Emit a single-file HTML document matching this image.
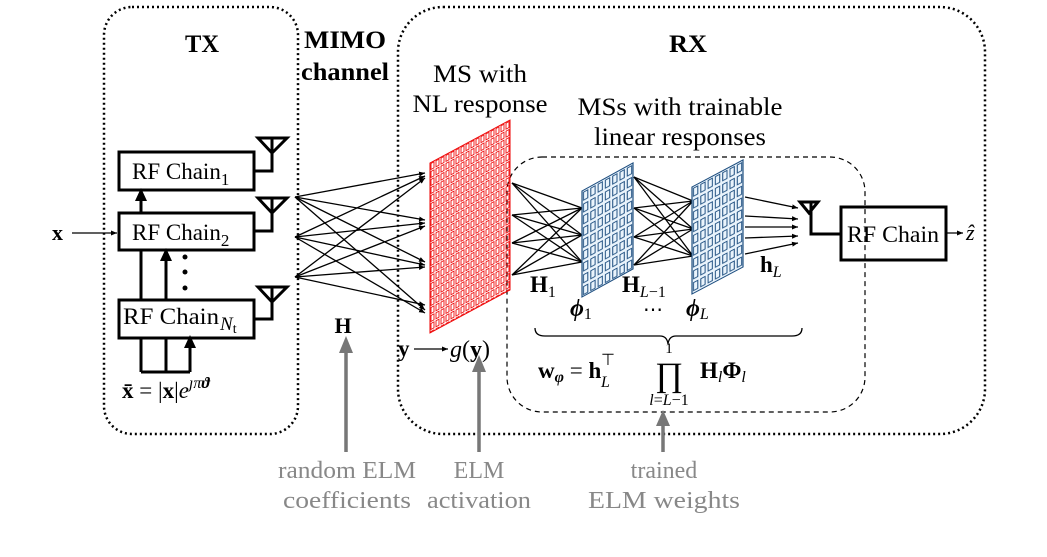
<!DOCTYPE html>
<html><head><meta charset="utf-8"><style>
html,body{margin:0;padding:0;background:#fff;}
svg{display:block;}
text{font-family:"Liberation Serif",serif;}
</style></head><body>
<svg width="1047" height="557" viewBox="0 0 1047 557" xmlns="http://www.w3.org/2000/svg">
<defs>
<marker id="ahs" markerWidth="6" markerHeight="6" refX="6" refY="3" orient="auto" markerUnits="userSpaceOnUse"><path d="M0,0.5 L6,3 L0,5.5 z" fill="#000"/></marker>
<pattern id="pr" width="5" height="8" patternUnits="userSpaceOnUse"><rect x="1" y="1" width="3" height="6" fill="none" stroke="#e00" stroke-width="0.9"/></pattern>
<pattern id="pb" width="7.3" height="11.8" patternUnits="userSpaceOnUse"><rect x="1.5" y="2" width="4.3" height="8" fill="none" stroke="#1f4f80" stroke-width="1"/></pattern>
</defs>

<rect x="104" y="7" width="194" height="427" rx="28" fill="none" stroke="#000" stroke-width="2.5" stroke-dasharray="2,3"/>
<rect x="398" y="7" width="587" height="427" rx="45" fill="none" stroke="#000" stroke-width="2.5" stroke-dasharray="2,3"/>
<rect x="507" y="157" width="358" height="255" rx="35" fill="none" stroke="#000" stroke-width="1.2" stroke-dasharray="5,4"/>

<text x="202" y="52" font-size="25" font-weight="bold" text-anchor="middle" textLength="34" lengthAdjust="spacingAndGlyphs">TX</text>
<text x="688" y="52" font-size="25" font-weight="bold" text-anchor="middle" textLength="38" lengthAdjust="spacingAndGlyphs">RX</text>
<text x="345" y="48" font-size="25" font-weight="bold" text-anchor="middle" textLength="82" lengthAdjust="spacingAndGlyphs">MIMO</text>
<text x="345" y="80" font-size="25" font-weight="bold" text-anchor="middle" textLength="88" lengthAdjust="spacingAndGlyphs">channel</text>
<text x="480" y="82" font-size="25" text-anchor="middle" textLength="94" lengthAdjust="spacingAndGlyphs">MS with</text>
<text x="480" y="112" font-size="25" text-anchor="middle" textLength="135" lengthAdjust="spacingAndGlyphs">NL response</text>
<text x="680" y="115" font-size="25" text-anchor="middle" textLength="205" lengthAdjust="spacingAndGlyphs">MSs with trainable</text>
<text x="680" y="145" font-size="25" text-anchor="middle" textLength="172" lengthAdjust="spacingAndGlyphs">linear responses</text>

<text x="52" y="240" font-size="22" font-weight="bold">x</text>
<line x1="72" y1="233" x2="117" y2="233" stroke="#000" stroke-width="1.3" marker-end="url(#ahs)"/>

<g fill="none" stroke="#000" stroke-width="3">
<rect x="119" y="152" width="135" height="38"/>
<rect x="119" y="213" width="135" height="37"/>
<rect x="119" y="300" width="135" height="38"/>
</g>
<text x="132" y="179" font-size="23">RF Chain<tspan font-size="17" dy="6">1</tspan></text>
<text x="132" y="240" font-size="23">RF Chain<tspan font-size="17" dy="6">2</tspan></text>
<text x="123" y="324" font-size="23" textLength="96" lengthAdjust="spacingAndGlyphs">RF Chain</text>
<text x="220" y="330" font-size="19" font-style="italic">N<tspan font-size="14" font-style="normal" dy="3">t</tspan></text>

<g fill="none" stroke="#000" stroke-width="3">
<path d="M258,138 L287,138 L272,153 Z M272,138 L272,171 L254,171"/>
<path d="M258,198 L287,198 L272,213 Z M272,198 L272,231 L254,231"/>
<path d="M258,287 L287,287 L272,302 Z M272,287 L272,319 L254,319"/>
</g>

<g stroke="#000" stroke-width="3" fill="none">
<path d="M141,372 L141,338 M166,372 L166,338 M190,372 L190,345 M141,372 L190,372"/>
<path d="M141,300 L141,250 M166,300 L166,258"/>
<path d="M141,213 L141,198"/>
</g>
<g fill="#000">
<path d="M184,348 L190,335 L196,348 Z"/>
<path d="M160,261 L166,248 L172,261 Z"/>
<path d="M135,201 L141,188 L147,201 Z"/>
<circle cx="185" cy="257" r="2.5"/><circle cx="185" cy="272" r="2.5"/><circle cx="185" cy="288" r="2.5"/>
</g>
<text x="122" y="398" font-size="23"><tspan font-weight="bold">x̄</tspan> = |<tspan font-weight="bold">x</tspan>|<tspan font-style="italic">e</tspan><tspan font-size="16" dy="-10" font-style="italic">ȷπ</tspan><tspan font-size="16" font-weight="bold" font-style="italic">ϑ</tspan></text>

<g stroke="#000" stroke-width="1.3" marker-end="url(#ahs)">
<line x1="295" y1="197" x2="425" y2="173"/><line x1="295" y1="197" x2="425" y2="220"/><line x1="295" y1="197" x2="425" y2="262"/><line x1="295" y1="197" x2="425" y2="310"/>
<line x1="295" y1="237" x2="425" y2="176"/><line x1="295" y1="237" x2="425" y2="223"/><line x1="295" y1="237" x2="425" y2="265"/><line x1="295" y1="237" x2="425" y2="313"/>
<line x1="295" y1="277" x2="425" y2="178"/><line x1="295" y1="277" x2="425" y2="226"/><line x1="295" y1="277" x2="425" y2="267"/><line x1="295" y1="277" x2="425" y2="305"/>
</g>
<text x="343" y="333" font-size="22" font-weight="bold" text-anchor="middle">H</text>

<g transform="matrix(1,-0.5375,0,1,430,163)">
<rect x="0" y="0" width="80" height="170" fill="url(#pr)" stroke="#e00" stroke-width="1"/>
</g>
<text x="398" y="356" font-size="23"><tspan font-weight="bold">y</tspan></text>
<line x1="414" y1="349" x2="448" y2="349" stroke="#000" stroke-width="1.3" marker-end="url(#ahs)"/>
<text x="450" y="357" font-size="24"><tspan font-style="italic">g</tspan>(<tspan font-weight="bold">y</tspan>)</text>

<g stroke="#000" stroke-width="1.3">
<line x1="512" y1="183" x2="582" y2="208"/><line x1="512" y1="183" x2="582" y2="235"/><line x1="512" y1="183" x2="582" y2="262"/>
<line x1="512" y1="215" x2="582" y2="208"/><line x1="512" y1="215" x2="582" y2="235"/><line x1="512" y1="215" x2="582" y2="262"/>
<line x1="512" y1="243" x2="582" y2="208"/><line x1="512" y1="243" x2="582" y2="235"/><line x1="512" y1="243" x2="582" y2="262"/>
<line x1="512" y1="275" x2="582" y2="208"/><line x1="512" y1="275" x2="582" y2="235"/><line x1="512" y1="275" x2="582" y2="262"/>
</g>
<g transform="matrix(1,-0.55,0,1,582,191)">
<rect x="0" y="0" width="51" height="106" fill="#eaf4fc" stroke="#1f4f80" stroke-width="1.2"/>
<rect x="0" y="0" width="51" height="106" fill="url(#pb)"/>
</g>
<g stroke="#000" stroke-width="1.3">
<line x1="634" y1="177" x2="693" y2="201"/><line x1="634" y1="177" x2="693" y2="229"/><line x1="634" y1="177" x2="693" y2="256"/>
<line x1="634" y1="208" x2="693" y2="201"/><line x1="634" y1="208" x2="693" y2="229"/><line x1="634" y1="208" x2="693" y2="256"/>
<line x1="634" y1="237" x2="693" y2="201"/><line x1="634" y1="237" x2="693" y2="229"/><line x1="634" y1="237" x2="693" y2="256"/>
<line x1="634" y1="265" x2="693" y2="201"/><line x1="634" y1="265" x2="693" y2="229"/><line x1="634" y1="265" x2="693" y2="256"/>
</g>
<g transform="matrix(1,-0.53,0,1,692,187)">
<rect x="0" y="0" width="51" height="107" fill="#eaf4fc" stroke="#1f4f80" stroke-width="1.2"/>
<rect x="0" y="0" width="51" height="107" fill="url(#pb)"/>
</g>
<g stroke="#000" stroke-width="1.3" marker-end="url(#ahs)">
<line x1="745" y1="197" x2="798" y2="208"/><line x1="745" y1="216" x2="798" y2="219"/><line x1="745" y1="227" x2="798" y2="227"/><line x1="745" y1="238" x2="798" y2="236"/><line x1="745" y1="254" x2="798" y2="243"/>
</g>
<g fill="none" stroke="#000" stroke-width="3">
<path d="M800,202 L818,202 L809,213 Z M811,202 L811,234 L841,234"/>
<rect x="841" y="207" width="105" height="53"/>
</g>
<text x="893" y="242" font-size="23" text-anchor="middle" textLength="92" lengthAdjust="spacingAndGlyphs">RF Chain</text>
<line x1="946" y1="233" x2="963" y2="233" stroke="#000" stroke-width="1.3" marker-end="url(#ahs)"/>
<text x="966" y="240" font-size="22" font-style="italic">ẑ</text>

<text x="530" y="292" font-size="23" font-weight="bold">H<tspan font-size="16" font-weight="normal" dy="5">1</tspan></text>
<text x="622" y="292" font-size="23" font-weight="bold">H<tspan font-size="16" font-weight="normal" font-style="italic" dy="5">L</tspan><tspan font-size="16" font-weight="normal">−1</tspan></text>
<text x="760" y="272" font-size="23" font-weight="bold">h<tspan font-size="16" font-weight="normal" font-style="italic" dy="5">L</tspan></text>
<text x="570" y="316" font-size="24" font-weight="bold" font-style="italic">ϕ<tspan font-size="16" font-weight="normal" font-style="normal" dy="3">1</tspan></text>
<text x="643" y="316" font-size="20">⋯</text>
<text x="686" y="316" font-size="24" font-weight="bold" font-style="italic">ϕ<tspan font-size="16" font-weight="normal" dy="3">L</tspan></text>

<path d="M535,328 Q535,336 545,336 L660,336 Q667,336 668,344 Q669,336 676,336 L792,336 Q802,336 802,328" fill="none" stroke="#000" stroke-width="1.3"/>
<text x="669" y="353" font-size="15" text-anchor="middle">1</text>
<text x="538" y="378" font-size="23" font-weight="bold">w<tspan font-size="16" font-style="italic" dy="4">φ</tspan><tspan dy="-4" font-weight="normal"> = </tspan>h</text>
<text x="601" y="365" font-size="16">⊤</text>
<text x="601" y="387" font-size="16" font-style="italic">L</text>
<text x="669" y="386" font-size="34" text-anchor="middle">∏</text>
<text x="669" y="405" font-size="16" text-anchor="middle"><tspan font-style="italic">l</tspan>=<tspan font-style="italic">L</tspan>−1</text>
<text x="700" y="378" font-size="23" font-weight="bold">H<tspan font-size="16" font-weight="normal" font-style="italic" dy="4">l</tspan><tspan dy="-4">Φ</tspan><tspan font-size="16" font-weight="normal" font-style="italic" dy="4">l</tspan></text>

<g stroke="#777" stroke-width="3.5">
<line x1="346" y1="452" x2="346" y2="346"/>
<line x1="479" y1="452" x2="479" y2="365"/>
<line x1="663" y1="452" x2="663" y2="420"/>
</g>
<g fill="#777">
<path d="M339,353 L346,336 L353,353 Z"/>
<path d="M472,372 L479,355 L486,372 Z"/>
<path d="M656,426 L663,410 L670,426 Z"/>
</g>
<g fill="#888" font-size="24" text-anchor="middle">
<text x="347" y="478" textLength="138" lengthAdjust="spacingAndGlyphs">random ELM</text>
<text x="347" y="508" textLength="128" lengthAdjust="spacingAndGlyphs">coefficients</text>
<text x="479" y="478">ELM</text>
<text x="479" y="508" textLength="104" lengthAdjust="spacingAndGlyphs">activation</text>
<text x="664" y="478">trained</text>
<text x="664" y="508" textLength="152" lengthAdjust="spacingAndGlyphs">ELM weights</text>
</g>
</svg>
</body></html>
